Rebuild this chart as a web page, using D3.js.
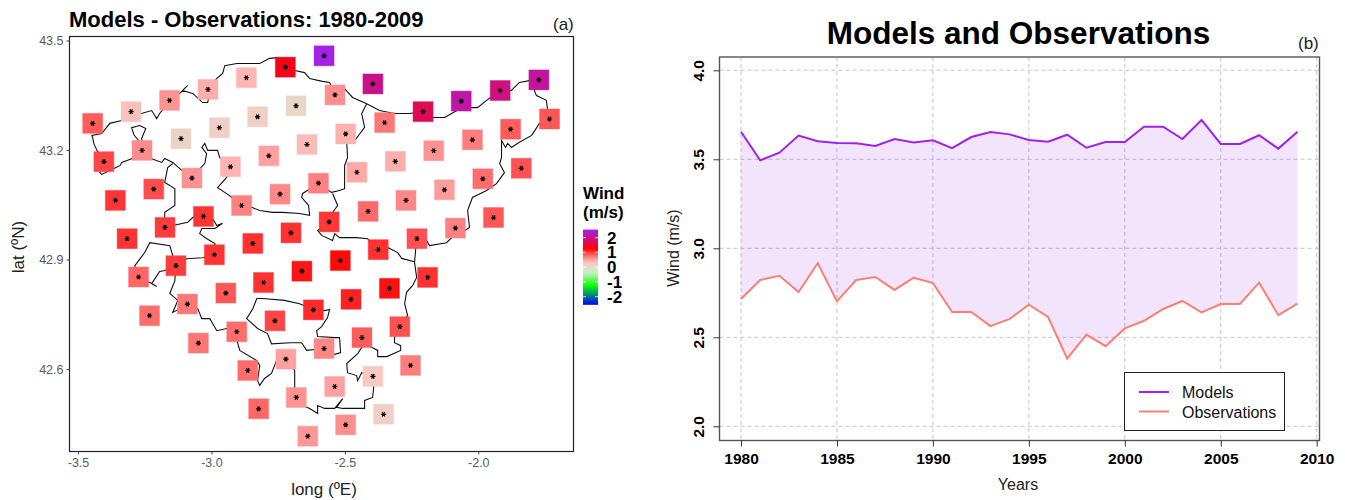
<!DOCTYPE html>
<html>
<head>
<meta charset="utf-8">
<script src="https://cdn.jsdelivr.net/npm/d3@7"></script>
<style>
  body { margin: 0; background: #fff; }
  text { font-family: "Liberation Sans", Arial, sans-serif; }
</style>
</head>
<body>
<script>
// panel (a): grid cells, model minus observation
var cellLon = [-3.445,-3.301,-3.157,-3.013,-2.869,-2.723,-2.578,-3.403,-3.26,-3.114,-2.97,-2.827,-2.683,-2.537,-2.395,
  -3.36,-3.216,-3.073,-2.929,-2.785,-2.642,-2.497,-2.351,-2.207,-2.064,-1.918,-1.773,
  -3.316,-3.174,-3.03,-2.887,-2.743,-2.599,-2.455,-2.311,-2.167,-2.022,-1.879,-1.733,
  -3.273,-3.133,-2.989,-2.845,-2.702,-2.559,-2.413,-2.271,-2.127,-1.983,-1.839,
  -3.232,-3.09,-2.946,-2.805,-2.661,-2.517,-2.375,-2.23,-2.086,-1.943,
  -3.049,-2.905,-2.762,-2.618,-2.477,-2.333,-2.19,
  -2.864,-2.721,-2.578,-2.436,-2.294,
  -2.823,-2.682,-2.538,-2.395,-2.254,
  -2.639,-2.497,-2.355];
var cellLat = [43.273,43.305,43.336,43.366,43.398,43.427,43.458,43.168,43.199,43.231,43.261,43.291,43.321,43.351,43.381,
  43.062,43.093,43.123,43.154,43.184,43.215,43.244,43.275,43.305,43.334,43.363,43.392,
  42.957,42.988,43.018,43.048,43.079,43.109,43.139,43.169,43.198,43.228,43.257,43.285,
  42.852,42.883,42.913,42.944,42.973,43.003,43.032,43.062,43.091,43.121,43.15,
  42.746,42.778,42.808,42.837,42.868,42.897,42.927,42.957,42.986,43.015,
  42.671,42.702,42.732,42.762,42.791,42.821,42.851,
  42.596,42.627,42.656,42.686,42.716,
  42.491,42.522,42.552,42.58,42.61,
  42.416,42.447,42.476];
var cellWind = [.85,.3,.6,.45,.38,1.42,2.5,.95,.63,.1,.15,.14,.06,.62,2.0,
  1.03,.92,.6,.4,.53,.33,.42,.72,1.72,2.15,1.95,2.1,
  1.03,1.0,1.03,.68,.65,.68,.5,.45,.6,.7,.85,.88,
  .8,1.0,1.03,1.05,1.05,1.02,.78,.65,.55,.77,.9,
  .77,.72,.87,1.05,1.18,1.23,1.05,.9,.68,.88,
  .73,.77,.95,1.08,1.12,1.2,1.05,
  .77,.53,.65,.85,.9,
  .8,.6,.53,.22,.7,
  .58,.62,.15];

// region outline and the inner province limits, [lon, lat]
var outerBorder = [[-3.262,43.199],[-3.299,43.176],[-3.336,43.166],[-3.343,43.157],[-3.366,43.149],[-3.411,43.133],[-3.418,43.138],[-3.403,43.168],[-3.429,43.199],[-3.441,43.218],[-3.445,43.234],[-3.448,43.24],[-3.411,43.245],[-3.381,43.273],[-3.336,43.281],[-3.302,43.305],[-3.262,43.3],[-3.224,43.308],[-3.205,43.286],[-3.194,43.3],[-3.156,43.336],[-3.119,43.355],[-3.089,43.377],[-3.108,43.363],[-3.07,43.355],[-3.033,43.33],[-3.014,43.33],[-3.01,43.344],[-3.014,43.366],[-2.98,43.396],[-2.958,43.41],[-2.95,43.431],[-2.905,43.437],[-2.819,43.437],[-2.782,43.451],[-2.752,43.453],[-2.722,43.426],[-2.688,43.418],[-2.651,43.412],[-2.632,43.396],[-2.584,43.388],[-2.557,43.385],[-2.538,43.352],[-2.501,43.368],[-2.471,43.344],[-2.418,43.327],[-2.37,43.308],[-2.314,43.3],[-2.257,43.3],[-2.209,43.305],[-2.172,43.289],[-2.126,43.289],[-2.081,43.308],[-2.063,43.333],[-2.025,43.316],[-2.003,43.316],[-1.969,43.336],[-1.917,43.363],[-1.876,43.363],[-1.846,43.385],[-1.808,43.39],[-1.775,43.393],[-1.79,43.363],[-1.782,43.349],[-1.745,43.336],[-1.741,43.314],[-1.733,43.286],[-1.771,43.273],[-1.8,43.24],[-1.846,43.221],[-1.876,43.207],[-1.89,43.218],[-1.898,43.207],[-1.913,43.226],[-1.913,43.179],[-1.92,43.163],[-1.902,43.138],[-1.932,43.108],[-1.969,43.089],[-2.022,43.07],[-2.04,43.034],[-2.033,42.988],[-2.051,42.979],[-2.085,42.985],[-2.1,42.96],[-2.119,42.946],[-2.183,42.938],[-2.194,42.952],[-2.231,42.957],[-2.239,42.892],[-2.231,42.851],[-2.246,42.829],[-2.269,42.81],[-2.276,42.779],[-2.265,42.747],[-2.295,42.716],[-2.314,42.686],[-2.314,42.672],[-2.291,42.664],[-2.291,42.651],[-2.343,42.634],[-2.377,42.634],[-2.377,42.651],[-2.407,42.662],[-2.434,42.662],[-2.452,42.642],[-2.493,42.615],[-2.49,42.59],[-2.456,42.582],[-2.452,42.568],[-2.437,42.59],[-2.396,42.58],[-2.392,42.549],[-2.396,42.522],[-2.426,42.514],[-2.426,42.492],[-2.471,42.492],[-2.508,42.492],[-2.531,42.495],[-2.508,42.519],[-2.538,42.492],[-2.576,42.492],[-2.602,42.5],[-2.602,42.478],[-2.632,42.492],[-2.658,42.5],[-2.681,42.522],[-2.688,42.549],[-2.688,42.596],[-2.722,42.626],[-2.756,42.623],[-2.775,42.588],[-2.801,42.574],[-2.819,42.555],[-2.827,42.568],[-2.819,42.61],[-2.83,42.623],[-2.894,42.651],[-2.902,42.672],[-2.905,42.702],[-2.943,42.711],[-2.98,42.705],[-3.006,42.738],[-3.036,42.738],[-3.051,42.765],[-3.089,42.776],[-3.145,42.755],[-3.126,42.788],[-3.156,42.807],[-3.137,42.842],[-3.134,42.883],[-3.175,42.87],[-3.194,42.867],[-3.224,42.834],[-3.205,42.826],[-3.231,42.837],[-3.273,42.851],[-3.287,42.883],[-3.25,42.919],[-3.231,42.946],[-3.156,42.938],[-3.145,42.911],[-3.134,42.883]];
var limitSouth = [[-3.134,42.883],[-3.093,42.902],[-3.033,42.905],[-2.987,42.913],[-2.987,42.944],[-3.017,42.957],[-3.044,42.971],[-3.036,42.985],[-2.987,42.985],[-2.958,42.999],[-2.98,42.993],[-2.995,43.012],[-3.029,43.018],[-3.07,43.015],[-3.089,43.002],[-3.175,42.988],[-3.175,43.029],[-3.137,43.048],[-3.137,43.094],[-3.156,43.103],[-3.175,43.111],[-3.164,43.152],[-3.145,43.163]];
var limitCentre = [[-3.262,43.199],[-3.224,43.176],[-3.186,43.166],[-3.175,43.177],[-3.145,43.166],[-3.111,43.144],[-3.074,43.125],[-3.025,43.163],[-3.018,43.19],[-3.036,43.207],[-3.025,43.218],[-3.014,43.199],[-2.977,43.199],[-2.969,43.179],[-2.928,43.155],[-2.943,43.125],[-2.977,43.097],[-2.932,43.075],[-2.887,43.048],[-2.849,43.043],[-2.819,43.034],[-2.771,43.029],[-2.733,43.029],[-2.67,43.026],[-2.632,43.021],[-2.636,43.048],[-2.662,43.07],[-2.658,43.081],[-2.599,43.108],[-2.55,43.084],[-2.52,43.089],[-2.501,43.094],[-2.501,43.157],[-2.49,43.179],[-2.493,43.221],[-2.497,43.245],[-2.463,43.226],[-2.426,43.262],[-2.437,43.3],[-2.418,43.327]];
var limitEast = [[-2.546,43.081],[-2.527,43.048],[-2.546,43.029],[-2.557,43.004],[-2.602,42.979],[-2.587,42.966],[-2.546,42.952],[-2.538,42.971],[-2.52,42.96],[-2.456,42.96],[-2.415,42.957],[-2.374,42.927],[-2.34,42.933],[-2.302,42.919],[-2.287,42.903],[-2.239,42.894]];
var limitLoop = [[-2.83,42.793],[-2.808,42.793],[-2.726,42.788],[-2.67,42.779],[-2.617,42.763],[-2.576,42.76],[-2.557,42.763],[-2.565,42.741],[-2.587,42.716],[-2.606,42.705],[-2.602,42.689],[-2.538,42.686],[-2.52,42.686],[-2.516,42.645],[-2.538,42.64],[-2.58,42.656],[-2.643,42.651],[-2.662,42.672],[-2.703,42.672],[-2.775,42.669],[-2.79,42.697],[-2.827,42.711],[-2.868,42.738],[-2.845,42.765],[-2.83,42.793]];
var limitPocket = [[-3.262,43.199],[-3.273,43.226],[-3.29,43.241],[-3.299,43.261],[-3.269,43.267],[-3.246,43.259],[-3.262,43.231],[-3.25,43.199]];

var colorValues = [-2.55,-1.275,-.4,0,.25,.5,1.275,2.55];
var colorRange = ["#0000ff","#00ff00","#c4f0c0","#e4dccc","#f9c6c2","#ffa8a8","#ff0000","#a020f0"];
var lonTicks = [-3.5,-3,-2.5,-2];
var latTicks = [42.6,42.9,43.2,43.5];
var legendTicks = [2,1,0,-1,-2];

// panel (b): yearly means
var years = d3.range(1980, 2010);
var models = [3.655,3.494,3.537,3.633,3.601,3.592,3.59,3.575,3.614,3.595,3.607,3.563,3.625,3.653,3.64,3.608,3.599,3.638,3.565,3.597,3.597,3.683,3.683,3.614,3.721,3.586,3.586,3.635,3.56,3.655];
var observations = [2.715,2.822,2.846,2.754,2.916,2.702,2.822,2.839,2.766,2.835,2.805,2.642,2.642,2.563,2.603,2.683,2.614,2.38,2.515,2.45,2.55,2.593,2.659,2.704,2.64,2.687,2.687,2.807,2.624,2.689];
var yearTicks = [1980,1985,1990,1995,2000,2005,2010];
var windTicks = [2,2.5,3,3.5,4];
var seriesNames = ["Models","Observations"];
var seriesColors = ["#a020f0","#fa8072"];

var svg = d3.select("body").append("svg").attr("width", 1345).attr("height", 500);

var lonScale = d3.scaleLinear().domain([-3.5,-2]).range([78,478.3]);
var latScale = d3.scaleLinear().domain([42.6,43.5]).range([369,40.5]);
var windColor = d3.scaleLinear().domain(colorValues).range(colorRange);

// r prints a plain hyphen for negatives
function plainFixed(d){ return d.toFixed(1); }

// ---- panel a ----
svg.append("rect").attr("x",69.5).attr("y",36.5).attr("width",504).attr("height",415)
  .attr("fill","none").attr("stroke","#222").attr("stroke-width",1.2);

var mapAxisX = svg.append("g").attr("transform","translate(0,451.5)")
  .call(d3.axisBottom(lonScale).tickValues(lonTicks).tickFormat(plainFixed).tickSize(3).tickPadding(4));
var mapAxisY = svg.append("g").attr("transform","translate(69.5,0)")
  .call(d3.axisLeft(latScale).tickValues(latTicks).tickFormat(plainFixed).tickSize(3).tickPadding(3));
[mapAxisX, mapAxisY].forEach(function(a){
  a.select(".domain").remove();
  a.selectAll("line").attr("stroke","#444");
  a.selectAll("text").attr("fill","#5a5a5a").style("font-size","12.5px");
});

var borderLine = d3.line().x(function(d){ return lonScale(d[0]); }).y(function(d){ return latScale(d[1]); });
svg.selectAll(".border")
  .data([outerBorder, limitSouth, limitCentre, limitEast, limitLoop, limitPocket])
  .enter().append("path")
  .attr("class","border")
  .attr("d", borderLine)
  .attr("fill","none").attr("stroke","#111").attr("stroke-width",1.1);

var cells = svg.selectAll(".cell").data(cellLon).enter().append("g")
  .attr("class","cell")
  .attr("transform", function(d,i){ return "translate(" + lonScale(d) + "," + latScale(cellLat[i]) + ")"; });
cells.append("rect").attr("x",-10).attr("y",-10).attr("width",20).attr("height",20)
  .attr("fill", function(d,i){ return windColor(cellWind[i]); })
  .attr("stroke", function(d,i){ return windColor(cellWind[i]); })
  .attr("stroke-opacity",.4);
// the star of significance
cells.append("path").attr("d","M-2.6,0H2.6M-1.3,-2.3L1.3,2.3M1.3,-2.3L-1.3,2.3")
  .attr("stroke","#000").attr("stroke-width",1.2);

svg.append("text").attr("x",69).attr("y",27).attr("font-weight","bold").style("font-size","22px")
  .text("Models - Observations: 1980-2009");
svg.append("text").attr("x",553).attr("y",30).attr("fill","#222").style("font-size","17px").text("(a)");
svg.append("text").attr("x",324).attr("y",495).attr("text-anchor","middle").attr("fill","#222").style("font-size","17px")
  .text("long (ºE)");
svg.append("text").attr("transform","translate(24,247) rotate(-90)").attr("text-anchor","middle").attr("fill","#222")
  .style("font-size","17px").text("lat (ºN)");

// colour key
var keyScale = d3.scaleLinear().domain([-2,2]).range([296.7,237.7]);
var gradient = svg.append("defs").append("linearGradient").attr("id","windKey")
  .attr("x1",0).attr("x2",0).attr("y1",1).attr("y2",0);
gradient.selectAll("stop").data(colorValues).enter().append("stop")
  .attr("offset", function(d){ return (d + 2.55) / 5.1; })
  .attr("stop-color", function(d){ return windColor(d); });
svg.append("rect").attr("x",583).attr("width",15).attr("y",keyScale(2.55)).attr("height",keyScale(-2.55)-keyScale(2.55))
  .attr("fill","url(#windKey)");
svg.selectAll(".keytick").data(legendTicks).enter().append("path").attr("class","keytick")
  .attr("d", function(d){ var y = keyScale(d); return "M583," + y + "h3M595," + y + "h3"; })
  .attr("stroke","#fff").attr("stroke-width",.8);
svg.selectAll(".keylabel").data(legendTicks).enter().append("text").attr("class","keylabel")
  .attr("x",607).attr("y",function(d){ return keyScale(d) + 6; })
  .attr("font-weight","bold").style("font-size","17px")
  .text(function(d){ return d; });
svg.append("text").attr("x",583).attr("y",199).attr("font-weight","bold").style("font-size","17px").text("Wind");
svg.append("text").attr("x",583).attr("y",218).attr("font-weight","bold").style("font-size","17px").text("(m/s)");

// ---- panel b ----
var yearScale = d3.scaleLinear().domain([1980,2010]).range([741,1316.7]);
var windScale = d3.scaleLinear().domain([2,4]).range([426.3,70.3]);

svg.selectAll(".gridx").data(yearTicks).enter().append("line").attr("class","gridx")
  .attr("x1",yearScale).attr("x2",yearScale).attr("y1",57).attr("y2",440.5);
svg.selectAll(".gridy").data(windTicks).enter().append("line").attr("class","gridy")
  .attr("y1",windScale).attr("y2",windScale).attr("x1",719.5).attr("x2",1319.5);
svg.selectAll(".gridx,.gridy").attr("stroke","#c6c6c6").attr("stroke-dasharray","4,3");

var ribbon = d3.area()
  .x(function(d){ return yearScale(d); })
  .y0(function(d,i){ return windScale(observations[i]); })
  .y1(function(d,i){ return windScale(models[i]); });
svg.append("path").datum(years).attr("d",ribbon).attr("fill","#a020f0").attr("fill-opacity",.12);

var yearLine = d3.line().x(function(d,i){ return yearScale(years[i]); }).y(function(d){ return windScale(d); });
svg.selectAll(".series").data([models, observations]).enter().append("path").attr("class","series")
  .attr("d",yearLine).attr("fill","none").attr("stroke-width",2)
  .attr("stroke",function(d,i){ return seriesColors[i]; });

svg.append("rect").attr("x",719.5).attr("y",57).attr("width",600).attr("height",383.5)
  .attr("fill","none").attr("stroke","#555").attr("stroke-width",1.4);

var yearAxis = svg.append("g").attr("transform","translate(0,440.5)")
  .call(d3.axisBottom(yearScale).tickValues(yearTicks).tickFormat(d3.format("d")).tickSize(6).tickPadding(6.5));
var windAxis = svg.append("g").attr("transform","translate(719.5,0)")
  .call(d3.axisLeft(windScale).tickValues(windTicks).tickFormat(d3.format(".1f")).tickSize(6).tickPadding(0));
[yearAxis, windAxis].forEach(function(a){
  a.select(".domain").remove();
  a.selectAll("line").attr("stroke","#333");
  a.selectAll("text").attr("font-weight","bold").attr("fill","#000").style("font-size","15.5px");
});
windAxis.selectAll("text")
  .attr("text-anchor","middle").attr("x",0).attr("dy",0)
  .attr("transform","translate(-15.5,0) rotate(-90)");

svg.append("text").attr("x",1018.5).attr("y",44).attr("text-anchor","middle").attr("font-weight","bold")
  .style("font-size","31.5px").text("Models and Observations");
svg.append("text").attr("x",1298).attr("y",49).attr("fill","#222").style("font-size","17px").text("(b)");
svg.append("text").attr("x",1018).attr("y",490).attr("text-anchor","middle").attr("fill","#222").style("font-size","16px").text("Years");
svg.append("text").attr("transform","translate(679,248) rotate(-90)").attr("text-anchor","middle").attr("fill","#222")
  .style("font-size","16px").text("Wind (m/s)");

// legend
svg.append("rect").attr("x",1124.5).attr("y",372.5).attr("width",160).attr("height",58)
  .attr("fill","#fff").attr("stroke","#222");
var key = svg.selectAll(".key").data(seriesNames).enter().append("g").attr("class","key")
  .attr("transform",function(d,i){ return "translate(0," + (392 + i * 19.5) + ")"; });
key.append("line").attr("x1",1139).attr("x2",1169).attr("stroke-width",2)
  .attr("stroke",function(d,i){ return seriesColors[i]; });
key.append("text").attr("x",1182).attr("y",6).attr("fill","#111").style("font-size","16px").text(function(d){ return d; });
</script>
</body>
</html>
